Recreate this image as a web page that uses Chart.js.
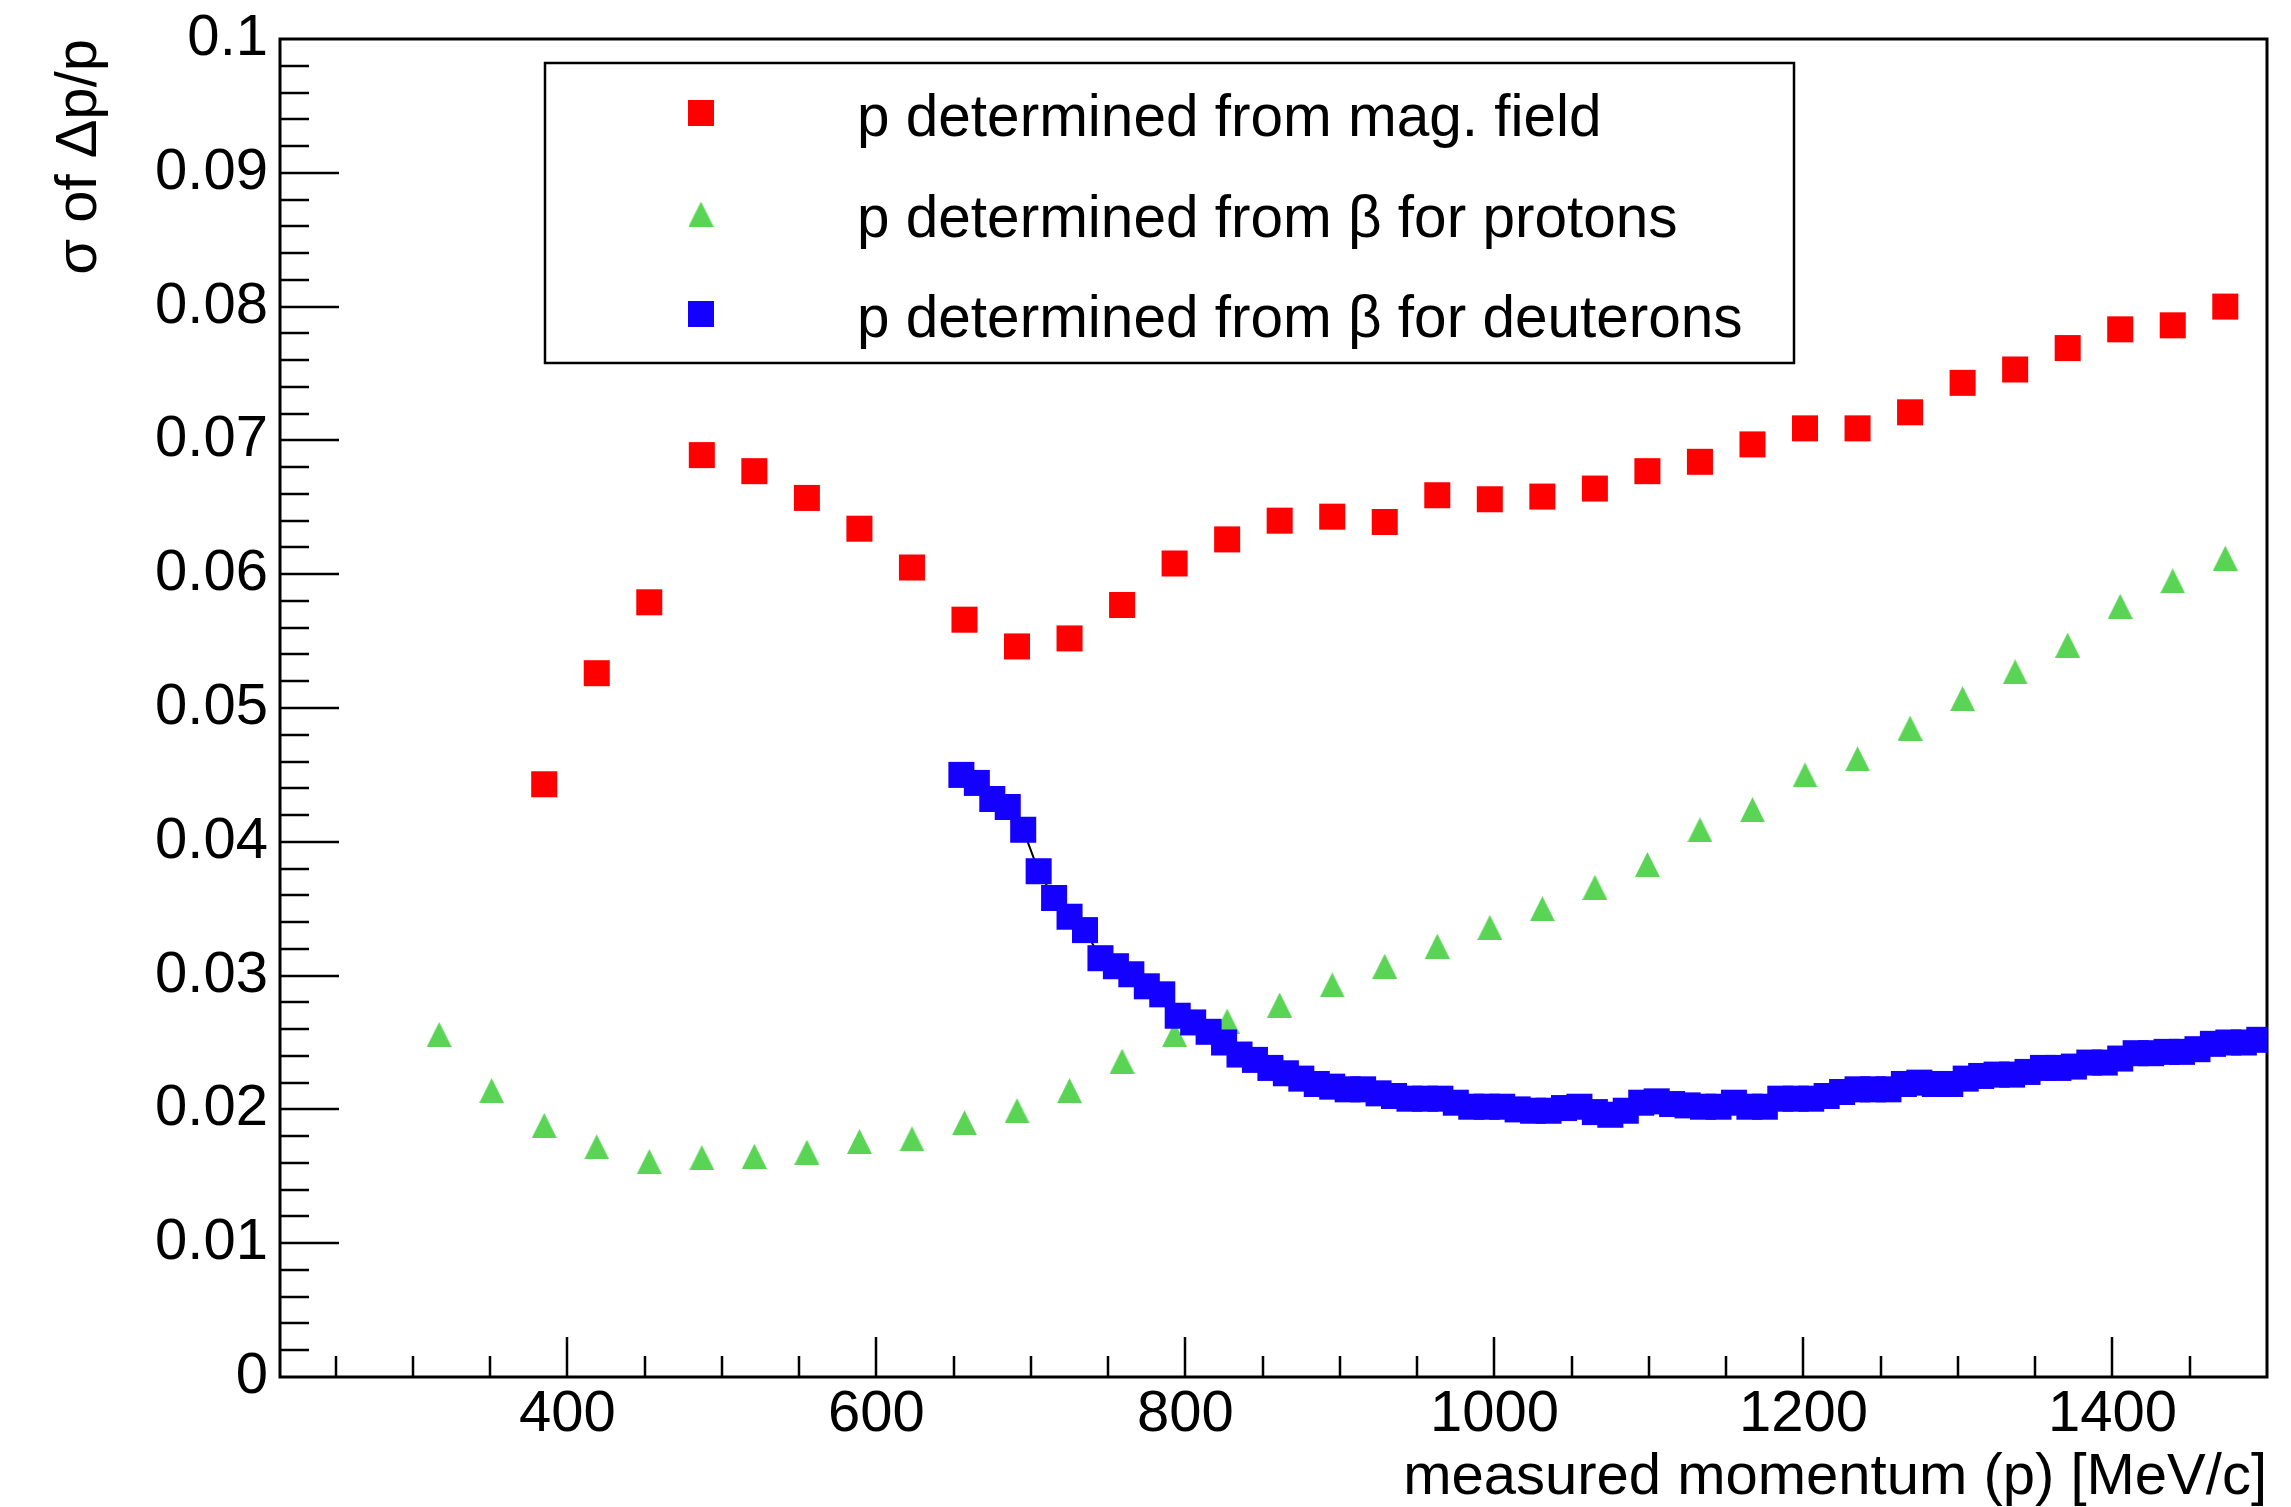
<!DOCTYPE html>
<html>
<head>
<meta charset="utf-8">
<title>sigma of dp/p vs measured momentum</title>
<script src="https://cdn.jsdelivr.net/npm/chart.js@4.4.1/dist/chart.umd.min.js"></script>
<style>
    html, body { margin: 0; padding: 0; background: #fff; }
    canvas { display: block; }
</style>
</head>
<body>
<canvas id="momChart" width="2291" height="1507"></canvas>
<script>
/**
 * Values
 */
// p determined from mag. field (red squares)
var momentumMag = [385, 419, 453, 487, 521, 555, 589, 623, 657, 691, 725, 759, 793, 827, 861, 895, 929,
    963, 997, 1031, 1065, 1099, 1133, 1167, 1201, 1235, 1269, 1303, 1337, 1371, 1405, 1439, 1473];
var sigmaMag = [0.0443, 0.0526, 0.0579, 0.0689, 0.0677, 0.0657, 0.0634, 0.0605, 0.0566, 0.0546, 0.0552,
    0.0577, 0.0608, 0.0626, 0.0640, 0.0643, 0.0639, 0.0659, 0.0656, 0.0658, 0.0664, 0.0677, 0.0684,
    0.0697, 0.0709, 0.0709, 0.0721, 0.0743, 0.0753, 0.0769, 0.0783, 0.0786, 0.0800];

// p determined from beta for protons (green triangles)
var momentumBetaP = [317, 351, 385, 419, 453, 487, 521, 555, 589, 623, 657, 691, 725, 759, 793, 827, 861,
    895, 929, 963, 997, 1031, 1065, 1099, 1133, 1167, 1201, 1235, 1269, 1303, 1337, 1371, 1405, 1439, 1473];
var sigmaBetaP = [0.0256, 0.0214, 0.0188, 0.0172, 0.0161, 0.0164, 0.0165, 0.0168, 0.0176, 0.0178, 0.0190,
    0.0199, 0.0214, 0.0236, 0.0256, 0.0266, 0.0278, 0.0293, 0.0307, 0.0322, 0.0336, 0.0350, 0.0366,
    0.0383, 0.0409, 0.0424, 0.0450, 0.0462, 0.0485, 0.0507, 0.0527, 0.0547, 0.0576, 0.0595, 0.0612];

// p determined from beta for deuterons (blue squares, joined by a thin black line)
var momentumBetaD = [655, 665, 675, 685, 695, 705, 715, 725, 735, 745, 755, 765, 775, 785, 795, 805, 815,
    825, 835, 845, 855, 865, 875, 885, 895, 905, 915, 925, 935, 945, 955, 965, 975, 985, 995, 1005, 1015,
    1025, 1035, 1045, 1055, 1065, 1075, 1085, 1095, 1105, 1115, 1125, 1135, 1145, 1155, 1165, 1175, 1185,
    1195, 1205, 1215, 1225, 1235, 1245, 1255, 1265, 1275, 1285, 1295, 1305, 1315, 1325, 1335, 1345, 1355,
    1365, 1375, 1385, 1395, 1405, 1415, 1425, 1435, 1445, 1455, 1465, 1475, 1485, 1495];
var sigmaBetaD = [0.0450, 0.0444, 0.0432, 0.0426, 0.0409, 0.0378, 0.0358, 0.0344, 0.0334, 0.0313, 0.0307,
    0.0301, 0.0292, 0.0286, 0.0270, 0.0265, 0.0258, 0.0250, 0.0241, 0.0237, 0.0231, 0.0227, 0.0223,
    0.0219, 0.0217, 0.0215, 0.0215, 0.0212, 0.0210, 0.0208, 0.0208, 0.0208, 0.0205, 0.0202, 0.0202,
    0.0202, 0.0200, 0.0199, 0.0199, 0.0201, 0.0202, 0.0198, 0.0196, 0.0199, 0.0205, 0.0206, 0.0204,
    0.0203, 0.0202, 0.0202, 0.0205, 0.0202, 0.0202, 0.0208, 0.0208, 0.0208, 0.0210, 0.0213, 0.0215,
    0.0215, 0.0215, 0.0219, 0.0220, 0.0219, 0.0219, 0.0223, 0.0225, 0.0226, 0.0226, 0.0228, 0.0231,
    0.0231, 0.0232, 0.0235, 0.0235, 0.0238, 0.0242, 0.0242, 0.0243, 0.0243, 0.0245, 0.0249, 0.0250,
    0.0250, 0.0252];

var seriesNames = ['p determined from mag. field', 'p determined from \u03b2 for protons',
    'p determined from \u03b2 for deuterons'];

// axes
var xTickValues = [400, 600, 800, 1000, 1200, 1400];
var xTickLabels = ['400', '600', '800', '1000', '1200', '1400'];
var yTickValues = [0, 0.01, 0.02, 0.03, 0.04, 0.05, 0.06, 0.07, 0.08, 0.09, 0.1];
var yTickLabels = ['0', '0.01', '0.02', '0.03', '0.04', '0.05', '0.06', '0.07', '0.08', '0.09', '0.1'];

var FONT = '"Liberation Sans", Arial, Helvetica, sans-serif';
var RED = '#ff0000';
var GREEN = '#59d454';
var BLUE = '#1400ff';

/**
 * Join two arrays in {x, y} points
 */
function toPoints(xs, ys) {
    var pts = [];
    for (var i = 0; i < xs.length; i++) {
        pts.push({x: xs[i], y: ys[i]});
    }
    return pts;
}

/**
 * Up triangle marker, centered on its box like the ROOT one
 */
function makeTriangle(size, color) {
    var c = document.createElement('canvas');
    c.width = size;
    c.height = size;
    var g = c.getContext('2d');
    g.fillStyle = color;
    g.beginPath();
    g.moveTo(size / 2, 0);
    g.lineTo(size, size);
    g.lineTo(0, size);
    g.closePath();
    g.fill();
    return c;
}

var triangle = makeTriangle(25, GREEN);

/**
 * Frame plus inward ticks (major + minor)
 */
var frameTicks = {
    id: 'frameTicks',
    beforeDatasetsDraw: function (chart) {
        var ctx = chart.ctx;
        var a = chart.chartArea;
        var xs = chart.scales.x;
        var ys = chart.scales.y;
        ctx.save();
        ctx.strokeStyle = '#000';
        ctx.lineWidth = 2.5;
        ctx.beginPath();
        for (var v = 250; v < 1500; v += 50) {
            var px = Math.round(xs.getPixelForValue(v));
            var len = (v % 200 === 0) ? 40 : 21;
            ctx.moveTo(px, a.bottom);
            ctx.lineTo(px, a.bottom - len);
        }
        for (var i = 1; i < 50; i++) {
            var py = Math.round(ys.getPixelForValue(i * 0.002));
            var l = (i % 5 === 0) ? 59 : 29;
            ctx.moveTo(a.left, py);
            ctx.lineTo(a.left + l, py);
        }
        ctx.stroke();
        ctx.lineWidth = 3;
        ctx.strokeRect(a.left, a.top, a.right - a.left, a.bottom - a.top);
        ctx.restore();
    }
};

/**
 * Boxed legend in the upper part of the pad
 */
var boxLegend = {
    id: 'boxLegend',
    afterDatasetsDraw: function (chart) {
        var ctx = chart.ctx;
        var rows = [113, 214, 314];
        ctx.save();
        ctx.fillStyle = '#fff';
        ctx.fillRect(545, 63, 1249, 300);
        ctx.strokeStyle = '#000';
        ctx.lineWidth = 2.5;
        ctx.strokeRect(545, 63, 1249, 300);

        ctx.fillStyle = RED;
        ctx.fillRect(701 - 13, rows[0] - 13, 26, 26);
        ctx.drawImage(triangle, 701 - 12.5, rows[1] - 12.5);
        ctx.fillStyle = BLUE;
        ctx.fillRect(701 - 13, rows[2] - 13, 26, 26);

        ctx.fillStyle = '#000';
        ctx.font = '58.5px ' + FONT;
        ctx.textAlign = 'left';
        ctx.textBaseline = 'alphabetic';
        for (var i = 0; i < seriesNames.length; i++) {
            ctx.fillText(seriesNames[i], 857, rows[i] + 23);
        }
        ctx.restore();
    }
};

function drawChart() {
    var ctx = document.getElementById('momChart').getContext('2d');

    var myChart = new Chart(ctx, {
        type: 'scatter',
        data: {
            datasets: [{
                label: seriesNames[2],
                data: toPoints(momentumBetaD, sigmaBetaD),
                showLine: true,
                borderColor: '#000',
                borderWidth: 2,
                tension: 0,
                pointStyle: 'rect',
                pointRadius: 18.4,
                pointBackgroundColor: BLUE,
                pointBorderWidth: 0,
                order: 0
            }, {
                label: seriesNames[1],
                data: toPoints(momentumBetaP, sigmaBetaP),
                showLine: false,
                pointStyle: triangle,
                pointRadius: 13,
                pointBorderWidth: 0,
                order: 1
            }, {
                label: seriesNames[0],
                data: toPoints(momentumMag, sigmaMag),
                showLine: false,
                pointStyle: 'rect',
                pointRadius: 18.4,
                pointBackgroundColor: RED,
                pointBorderWidth: 0,
                order: 2
            }]
        },
        options: {
            responsive: false,
            animation: false,
            devicePixelRatio: 1,
            events: [],
            layout: {padding: {top: 39, right: 24, left: 0, bottom: 0}},
            plugins: {
                legend: {display: false},
                tooltip: {enabled: false}
            },
            scales: {
                x: {
                    type: 'linear',
                    min: 214,
                    max: 1500,
                    grid: {display: false, drawTicks: false},
                    border: {display: false},
                    afterBuildTicks: function (scale) {
                        scale.ticks = xTickValues.map(function (v) { return {value: v}; });
                    },
                    afterFit: function (scale) { scale.height = 130; },
                    ticks: {
                        color: '#000',
                        padding: 3,
                        maxRotation: 0,
                        font: {family: FONT, size: 58, lineHeight: 1.2},
                        callback: function (value, index) { return xTickLabels[index]; }
                    },
                    title: {
                        display: true,
                        text: 'measured momentum (p) [MeV/c]',
                        align: 'end',
                        color: '#000',
                        padding: {top: 0, bottom: 0},
                        font: {family: FONT, size: 58, lineHeight: 1.0}
                    }
                },
                y: {
                    type: 'linear',
                    min: 0,
                    max: 0.1,
                    grid: {display: false, drawTicks: false},
                    border: {display: false},
                    afterBuildTicks: function (scale) {
                        scale.ticks = yTickValues.map(function (v) { return {value: v}; });
                    },
                    afterFit: function (scale) { scale.width = 280; },
                    ticks: {
                        color: '#000',
                        padding: 12,
                        font: {family: FONT, size: 58, lineHeight: 0.8},
                        callback: function (value, index) { return yTickLabels[index]; }
                    },
                    title: {
                        display: true,
                        text: '\u03c3 of \u0394p/p',
                        align: 'end',
                        color: '#000',
                        padding: {top: 45, bottom: 0},
                        font: {family: FONT, size: 58, lineHeight: 1.2}
                    }
                }
            }
        },
        plugins: [frameTicks, boxLegend]
    });
    return myChart;
}

drawChart();
</script>
</body>
</html>
